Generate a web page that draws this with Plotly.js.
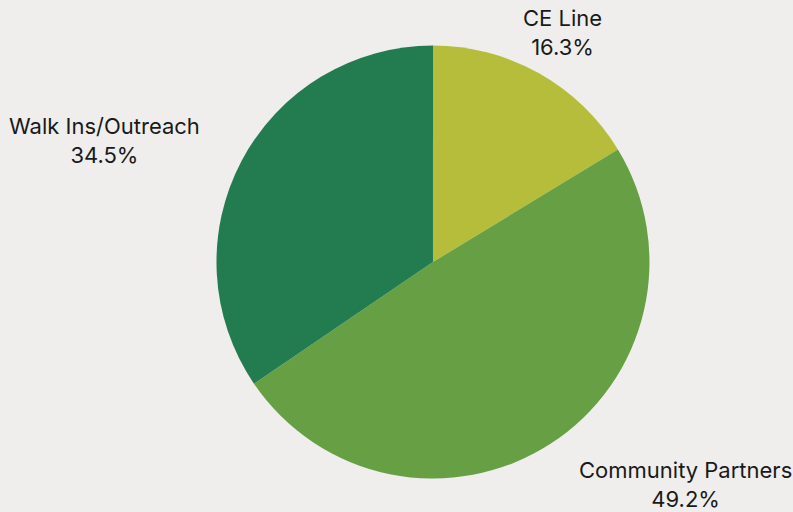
<!DOCTYPE html>
<html><head><meta charset="utf-8">
<script src="https://cdn.plot.ly/plotly-3.0.1.min.js"></script>
<style>html,body{margin:0;padding:0;background:#efeeec;}</style>
</head><body>
<div id="chart" style="width:793px;height:512px;"></div>
<script>
const labels = ["CE Line", "Community Partners", "Walk Ins/Outreach"];
const values = [16.3, 49.2, 34.5];
const colors = ["#b5bd3a", "#67a044", "#237c4f"];

// label placement (paper coords) kept separate from data
const labelPos = [[562/793, 1-32/512], [685/793, 1-484/512], [105/793, 1-140/512]];

const total = values.reduce((a, b) => a + b, 0);
const annotations = labels.map((l, i) => ({
  xref: "paper", yref: "paper",
  x: labelPos[i][0], y: labelPos[i][1],
  xanchor: "center", yanchor: "middle",
  showarrow: false,
  text: l + "<br>" + (values[i] / total * 100).toFixed(1) + "%",
  font: {family: "Inter, 'Open Sans', sans-serif", size: 22, color: "#1a1a1a"}
}));

Plotly.newPlot("chart", [{
  type: "pie",
  labels: labels,
  values: values,
  sort: false,
  direction: "clockwise",
  rotation: 0,
  marker: {colors: colors, line: {width: 0}},
  textinfo: "none",
  automargin: false,
  domain: {x: [0.273, 0.819], y: [1-479/512, 1-45/512]},
  hoverinfo: "label+percent"
}], {
  width: 793, height: 512,
  margin: {l: 0, r: 0, t: 0, b: 0},
  paper_bgcolor: "#efeeec",
  plot_bgcolor: "#efeeec",
  showlegend: false,
  annotations: annotations
}, {displayModeBar: false, staticPlot: true});
</script>
</body></html>
